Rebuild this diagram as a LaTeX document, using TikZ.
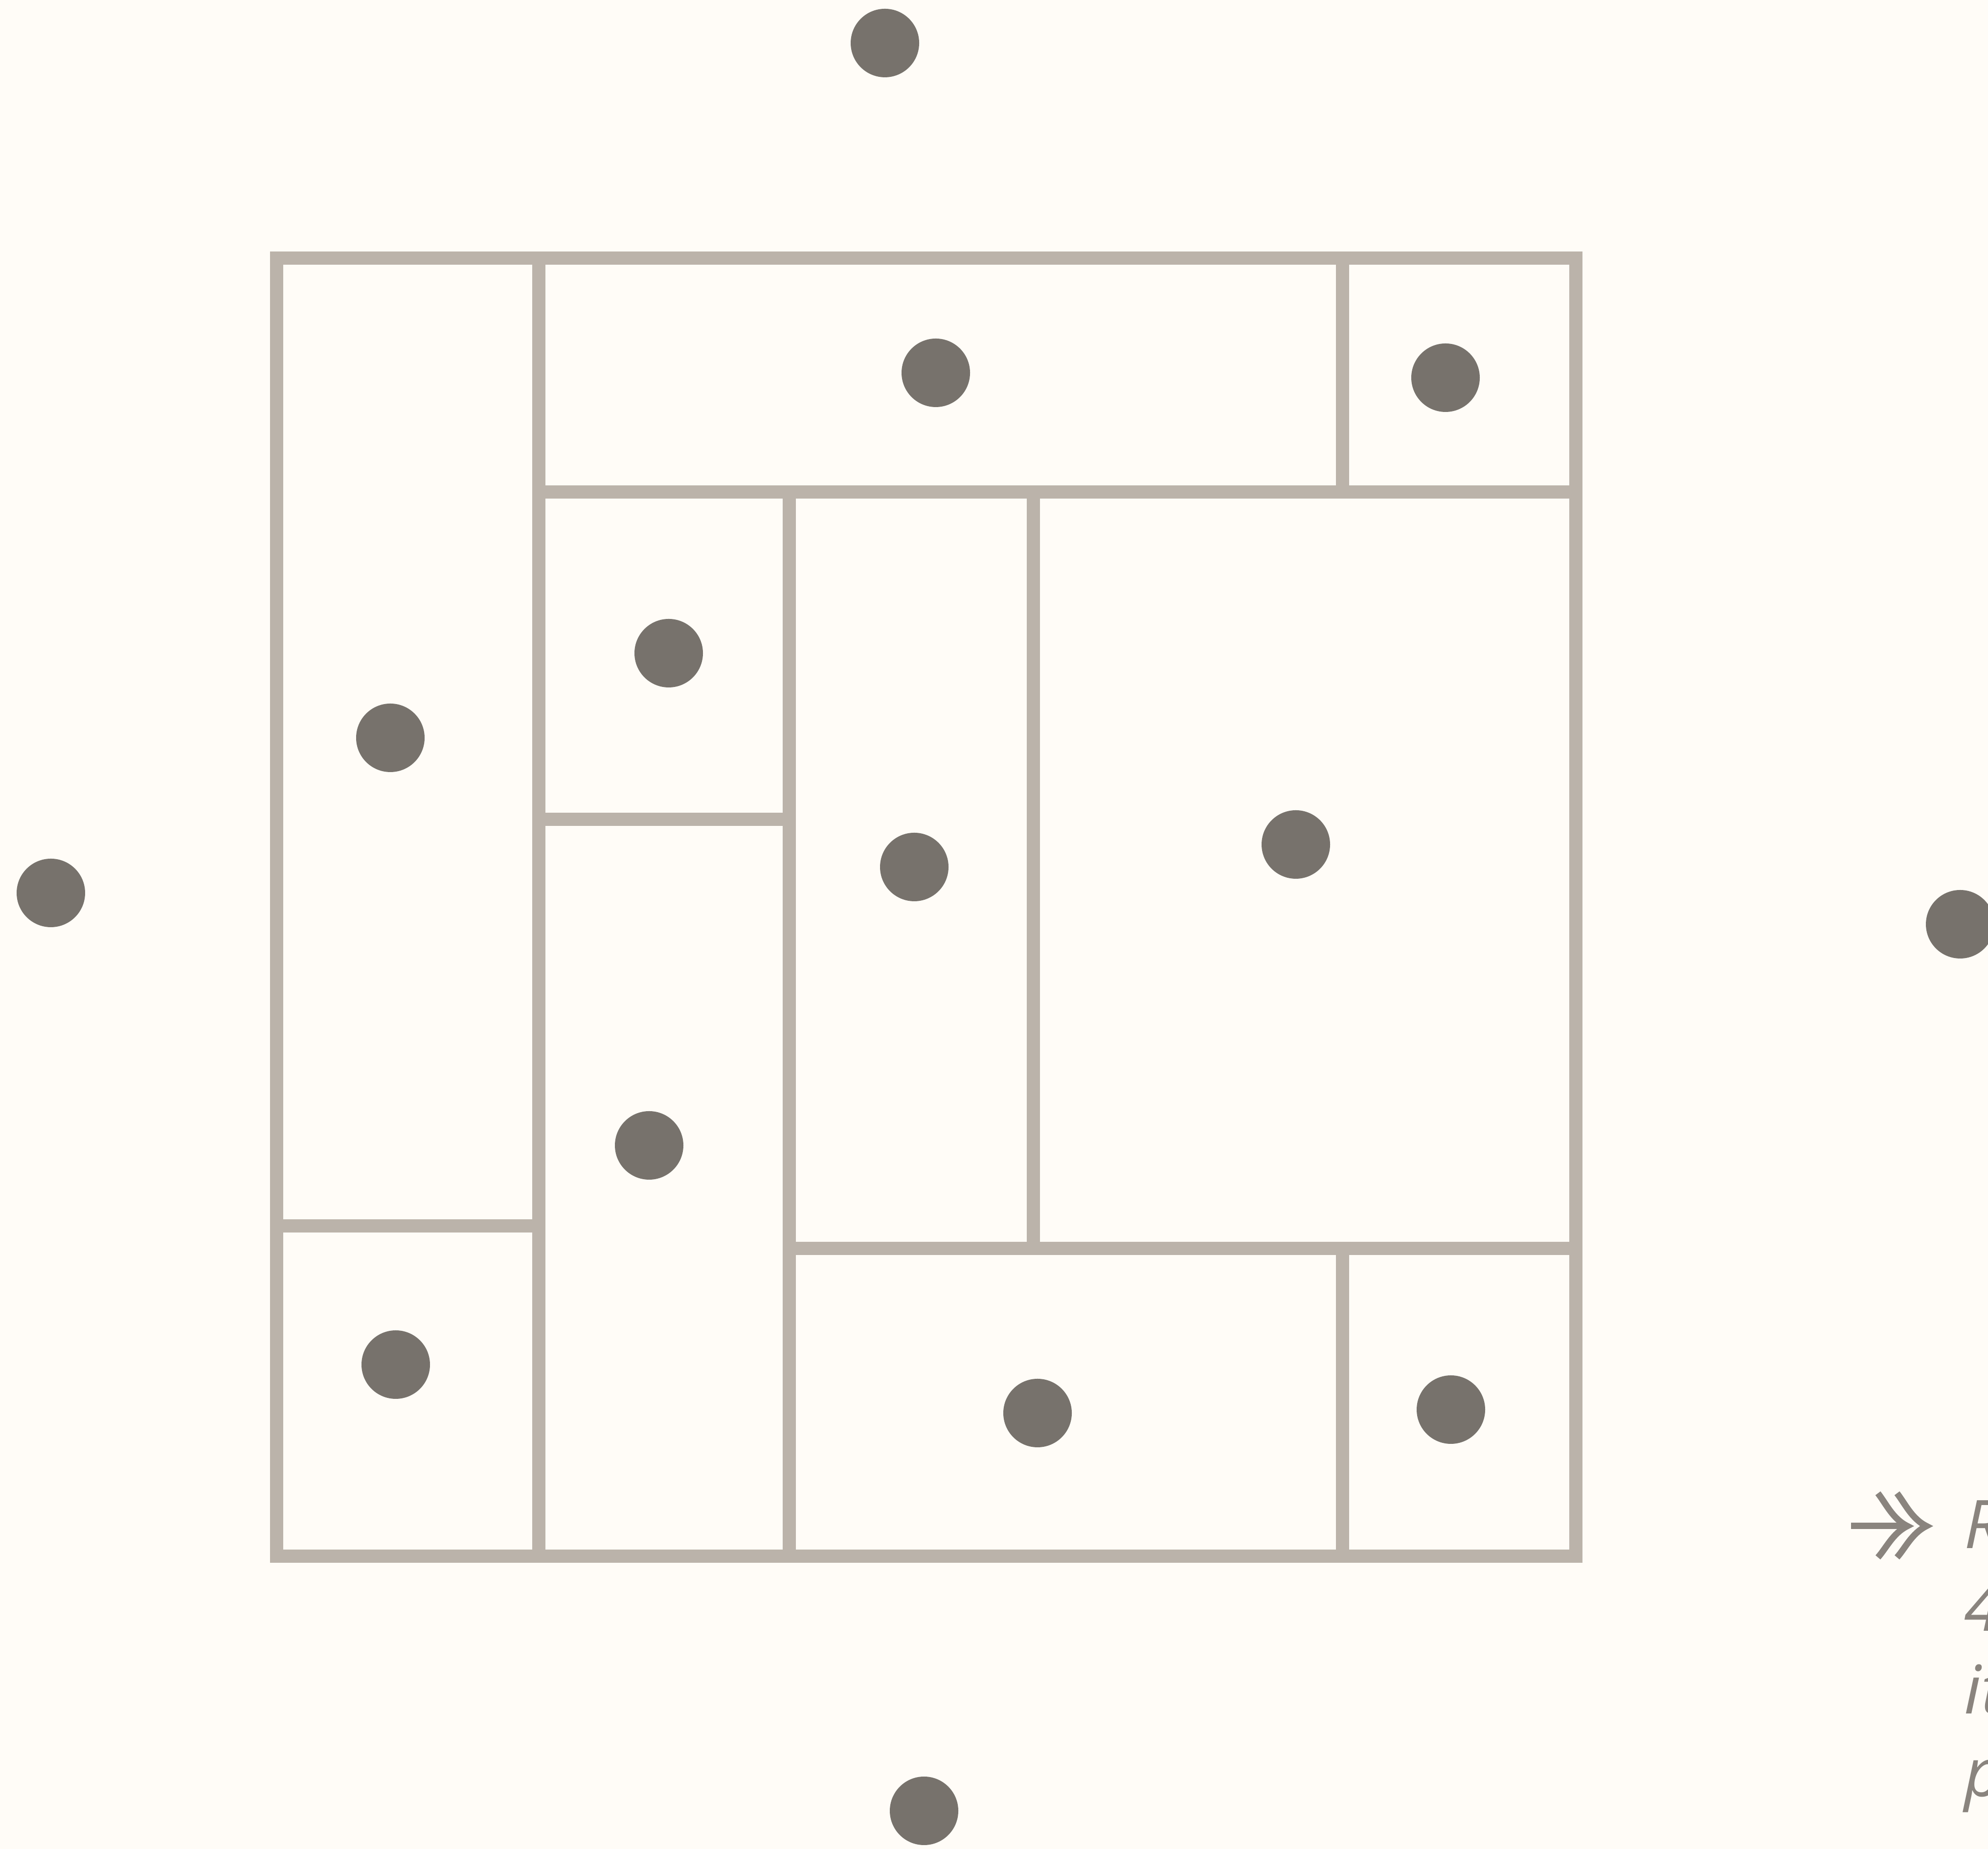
\documentclass[tikz,border=0pt]{standalone}
\usepackage{fontspec}
\setmainfont{Open Sans}
\usepackage{xcolor}
\usepackage{tikz}

\definecolor{paper}{HTML}{FFFCF7}
\definecolor{wallgray}{HTML}{BBB3AA}
\definecolor{dotgray}{HTML}{77726C}
\definecolor{notegray}{HTML}{8A847E}

\tikzset{
  wall/.style={draw=wallgray, line width=0.27cm, line cap=rect, line join=miter},
  dot/.style={circle, fill=dotgray, inner sep=0pt, minimum size=1.40cm},
  note/.style={text=notegray, inner sep=0pt, font=\itshape\fontsize{39pt}{48pt}\selectfont}
}

\begin{document}
\begin{tikzpicture}
    % Page
    \fill[paper] (0,0) rectangle (40.64,37.79);
    \useasboundingbox (0,0) rectangle (40.64,37.79);

    % Outer frame
    \draw[wall] (5.65,5.98) rectangle (32.21,32.51);

    % Inner walls
    \draw[wall] (11.01,32.51) -- (11.01,5.98);
    \draw[wall] (5.65,12.73) -- (11.01,12.73);
    \draw[wall] (11.01,27.73) -- (32.21,27.73);
    \draw[wall] (27.44,32.51) -- (27.44,27.73);
    \draw[wall] (16.13,27.73) -- (16.13,5.98);
    \draw[wall] (11.01,21.04) -- (16.13,21.04);
    \draw[wall] (21.12,27.73) -- (21.12,12.27);
    \draw[wall] (16.13,12.27) -- (32.21,12.27);
    \draw[wall] (27.44,12.27) -- (27.44,5.98);

    % Outside points
    \node[dot] (north) at (18.09,36.91) {};
    \node[dot] (west) at (1.04,19.54) {};
    \node[dot] (east) at (40.07,18.90) {};
    \node[dot] (south) at (18.89,0.78) {};

    % One point per room
    \node[dot] (topwide) at (19.13,30.17) {};
    \node[dot] (topright) at (29.55,30.07) {};
    \node[dot] (leftcol) at (7.98,22.71) {};
    \node[dot] (midupper) at (13.67,24.44) {};
    \node[dot] (center) at (18.69,20.07) {};
    \node[dot] (bigright) at (26.49,20.53) {};
    \node[dot] (midlower) at (13.27,14.38) {};
    \node[dot] (bottomleft) at (8.09,9.90) {};
    \node[dot] (bottomwide) at (21.21,8.91) {};
    \node[dot] (bottomright) at (29.66,8.98) {};

    % Note arrow
    \draw[notegray, line width=0.13cm] (37.84,6.60) -- (38.95,6.60);
    \draw[notegray, line width=0.13cm, line join=miter]
        (38.39,7.27) .. controls (38.56,7.05) and (38.69,6.75) .. (38.99,6.60)
        .. controls (38.69,6.45) and (38.56,6.15) .. (38.39,5.96);
    \draw[notegray, line width=0.13cm, line join=miter]
        (38.78,7.27) .. controls (38.95,7.05) and (39.08,6.75) .. (39.38,6.60)
        .. controls (39.08,6.45) and (38.95,6.15) .. (38.78,5.96);

    % Note text (runs off the page)
    \foreach \txt [count=\i] in {R,4,it,p}
        \node[note, anchor=base west] (note\i) at (40.15,{6.14-1.69*(\i-1)}) {\txt};
\end{tikzpicture}
\end{document}
